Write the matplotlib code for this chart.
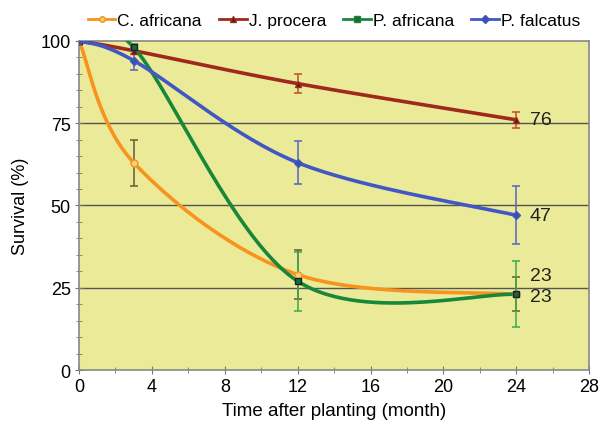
import numpy as np
import matplotlib
matplotlib.use("Agg")
import matplotlib.pyplot as plt
from matplotlib.ticker import MultipleLocator

plt.rcParams['font.family'] = ['Liberation Sans', 'DejaVu Sans']

months = [0, 3, 12, 24]
series_names = ["C. africana", "J. procera", "P. africana", "P. falcatus"]
c_africana = [100, 63, 29, 23]
j_procera = [100, 97, 87, 76]
p_africana = [100, 98, 27, 23]
p_falcatus = [100, 94, 63, 47]
c_africana_err = [0, 7, 7.5, 5.2]
j_procera_err = [0, 1, 3, 2.5]
p_africana_err = [0, 1, 9, 10]
p_falcatus_err = [0, 3, 6.5, 8.8]
end_labels = ["23", "76", "23", "47"]

values = [c_africana, j_procera, p_africana, p_falcatus]
errors = [c_africana_err, j_procera_err, p_africana_err, p_falcatus_err]
colors = ["#F7931E", "#A0281C", "#17873A", "#4157C4"]
err_colors = ["#6B5A30", "#C0502A", "#3AAA50", "#5566C8"]
markers = ["o", "^", "s", "D"]
mfc = ["#F2D27A", "#5A1A10", "#1A6B30", "#3A4FB0"]
label_dy = [5.8, 0, -0.6, 0]


def smooth(xs, ys, n=60):
    P = np.column_stack([xs, ys]).astype(float)
    P_ext = np.vstack([P[0], P, P[-1]])
    out = []
    for i in range(len(P) - 1):
        p0, p1, p2, p3 = P_ext[i], P_ext[i + 1], P_ext[i + 2], P_ext[i + 3]
        b1 = p1 + (p2 - p0) / 6.0
        b2 = p2 - (p3 - p1) / 6.0
        t = np.linspace(0, 1, n)[:, None]
        seg = ((1 - t) ** 3) * p1 + 3 * ((1 - t) ** 2) * t * b1 + 3 * (1 - t) * t ** 2 * b2 + t ** 3 * p2
        out.append(seg if i == 0 else seg[1:])
    c = np.vstack(out)
    return c[:, 0], c[:, 1]


fig = plt.figure(figsize=(6.08, 4.31), dpi=100)
ax = fig.add_axes([0.130, 0.139, 0.839, 0.764])
ax.set_facecolor("#EAEA98")

for yv in [25, 50, 75]:
    ax.axhline(yv, color="#555555", lw=1.0, zorder=1)

handles = []
for name, v, e, c, ec, m, fc, lab, dy in zip(series_names, values, errors, colors, err_colors, markers, mfc, end_labels, label_dy):
    sx, sy = smooth(months, v)
    ax.plot(sx, sy, color=c, lw=2.6, zorder=3, solid_capstyle="round")
    ax.errorbar(months[1:], v[1:], yerr=e[1:], fmt="none", ecolor=ec, elinewidth=1.1, capsize=3, capthick=1.1, zorder=4)
    ax.plot(months, v, ls="none", marker=m, ms=5 if m != "D" else 4, mfc=fc, mec=c if m != "s" else "#123", mew=1, zorder=5)
    h, = ax.plot([], [], color=c, lw=2, marker=m, ms=4, mfc=fc, mec=c, label=name)
    handles.append(h)
    ax.text(months[-1] + 0.75, v[-1] + dy, lab, fontsize=14, va="center", ha="left", color="#222222", zorder=6)

ax.set_xlim(0, 28)
ax.set_ylim(0, 100)
ax.xaxis.set_major_locator(MultipleLocator(4))
ax.xaxis.set_minor_locator(MultipleLocator(2))
ax.yaxis.set_major_locator(MultipleLocator(25))
ax.yaxis.set_minor_locator(MultipleLocator(5))
ax.tick_params(axis="both", which="major", labelsize=13, length=6, color="#777777", direction="inout", pad=3)
ax.tick_params(axis="both", which="minor", length=5, color="#777777", direction="inout")
for s in ax.spines.values():
    s.set_color("#888888")
    s.set_linewidth(1.2)

ax.set_xlabel("Time after planting (month)", fontsize=13.5, labelpad=5)
ax.set_ylabel("Survival (%)", fontsize=13, labelpad=8)

fig.legend(handles=handles, loc="upper right", bbox_to_anchor=(0.98, 1.005), ncol=4, frameon=False,
           fontsize=12.5, handlelength=1.6, handletextpad=0.1, columnspacing=1.0)

fig.savefig("out.png", dpi=100, facecolor="white")
